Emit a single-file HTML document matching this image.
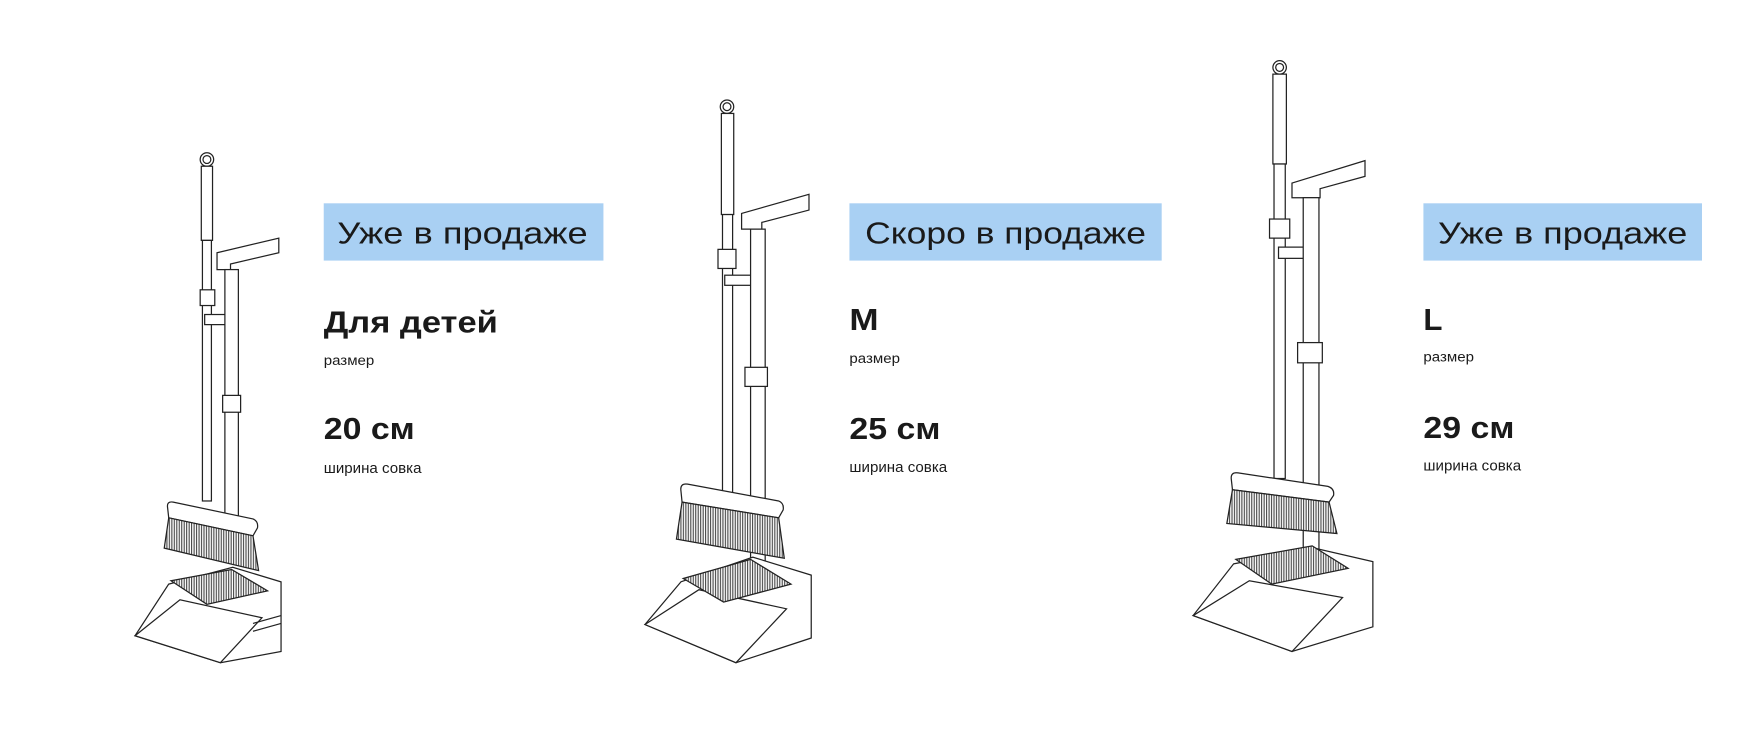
<!DOCTYPE html>
<html><head><meta charset="utf-8"><style>
html,body{margin:0;padding:0;background:#fff;}
svg{display:block}
text{font-family:"Liberation Sans",sans-serif;fill:#1a1a1a}
</style></head><body>
<svg width="1764" height="729" viewBox="0 0 1570 649" xmlns="http://www.w3.org/2000/svg">
<defs>
<pattern id="br" width="2.2" height="10" patternUnits="userSpaceOnUse"><rect width="2.2" height="10" fill="#fff"/><line x1="1" y1="0" x2="1" y2="10" stroke="#333" stroke-width="0.9"/></pattern>
</defs>
<g fill="#fff" stroke="#222" stroke-width="1.1">
<!-- Broom 1 -->
<circle cx="184" cy="142" r="6"/><circle cx="184" cy="142" r="3.5"/>
<rect x="179" y="148" width="10" height="66"/>
<rect x="180" y="214" width="8" height="232"/>
<rect x="178" y="258" width="13" height="14"/>
<rect x="182" y="280" width="20" height="9"/>
<path d="M193 225 L248 212 L248 225 L205 235 L205 240 L193 240 Z"/>
<rect x="200" y="240" width="12" height="260"/>
<rect x="198" y="352" width="16" height="15"/>
<path d="M149 452 Q148 446 154 447 L225 462 Q230 464 229 470 L225 477 L150 461 Z"/>
<path d="M150 461 L225 477 L230 508 L146 488 Z" fill="url(#br)"/>
<path d="M150 520 L207 505 L250 518 L250 580 L196 590 L120 566 Z"/>
<path d="M120 566 L160 534 L233 550 L196 590 Z"/>
<path d="M152 517 L206 507 L238 526 L184 538 Z" fill="url(#br)"/>
<line x1="225" y1="555" x2="250" y2="548"/><line x1="225" y1="562" x2="250" y2="555"/>
<!-- Broom 2 -->
<circle cx="647" cy="95" r="6"/><circle cx="647" cy="95" r="3.5"/>
<rect x="642" y="101" width="11" height="90"/>
<rect x="643" y="191" width="9" height="248"/>
<rect x="639" y="222" width="16" height="17"/>
<rect x="645" y="245" width="28" height="9"/>
<path d="M660 190 L720 173 L720 187 L678 198 L678 204 L660 204 Z"/>
<rect x="668" y="204" width="13" height="296"/>
<rect x="663" y="327" width="20" height="17"/>
<path d="M606 437 Q605 430 612 431 L693 446 Q698 448 697 454 L693 461 L607 447 Z"/>
<path d="M607 447 L693 461 L698 497 L602 480 Z" fill="url(#br)"/>
<path d="M606 518 L670 496 L722 512 L722 568 L655 590 L574 556 Z"/>
<path d="M574 556 L622 525 L700 542 L655 590 Z"/>
<path d="M608 515 L668 498 L704 520 L644 536 Z" fill="url(#br)"/>
<!-- Broom 3 -->
<circle cx="1139" cy="60" r="6"/><circle cx="1139" cy="60" r="3.5"/>
<rect x="1133" y="66" width="12" height="80"/>
<rect x="1134" y="146" width="10" height="280"/>
<rect x="1130" y="195" width="18" height="17"/>
<rect x="1138" y="220" width="32" height="10"/>
<path d="M1150 163 L1215 143 L1215 157 L1175 168 L1175 176 L1150 176 Z"/>
<rect x="1160" y="176" width="14" height="316"/>
<rect x="1155" y="305" width="22" height="18"/>
<path d="M1096 427 Q1095 420 1102 421 L1182 433 Q1188 435 1187 441 L1183 447 L1097 436 Z"/>
<path d="M1097 436 L1183 447 L1190 475 L1092 466 Z" fill="url(#br)"/>
<path d="M1098 502 L1170 488 L1222 500 L1222 558 L1150 580 L1062 548 Z"/>
<path d="M1062 548 L1112 517 L1195 532 L1150 580 Z"/>
<path d="M1100 498 L1168 486 L1200 506 L1132 520 Z" fill="url(#br)"/>
</g>
<!-- Labels -->
<rect x="288" y="181" width="249" height="51" fill="#a9d0f3"/>
<text x="300" y="217" font-size="27" textLength="223" lengthAdjust="spacingAndGlyphs">Уже в продаже</text>
<text x="288" y="296" font-size="27" font-weight="bold" textLength="155" lengthAdjust="spacingAndGlyphs">Для детей</text>
<text x="288" y="325" font-size="12" textLength="45" lengthAdjust="spacingAndGlyphs">размер</text>
<text x="288" y="391" font-size="27" font-weight="bold" textLength="81" lengthAdjust="spacingAndGlyphs">20 см</text>
<text x="288" y="421" font-size="13" textLength="87" lengthAdjust="spacingAndGlyphs">ширина совка</text>

<rect x="756" y="181" width="278" height="51" fill="#a9d0f3"/>
<text x="770" y="217" font-size="27" textLength="250" lengthAdjust="spacingAndGlyphs">Скоро в продаже</text>
<text x="756" y="294" font-size="27" font-weight="bold" textLength="26" lengthAdjust="spacingAndGlyphs">M</text>
<text x="756" y="323" font-size="12" textLength="45" lengthAdjust="spacingAndGlyphs">размер</text>
<text x="756" y="391" font-size="27" font-weight="bold" textLength="81" lengthAdjust="spacingAndGlyphs">25 см</text>
<text x="756" y="420" font-size="13" textLength="87" lengthAdjust="spacingAndGlyphs">ширина совка</text>

<rect x="1267" y="181" width="248" height="51" fill="#a9d0f3"/>
<text x="1280" y="217" font-size="27" textLength="222" lengthAdjust="spacingAndGlyphs">Уже в продаже</text>
<text x="1267" y="294" font-size="27" font-weight="bold" textLength="17" lengthAdjust="spacingAndGlyphs">L</text>
<text x="1267" y="322" font-size="12" textLength="45" lengthAdjust="spacingAndGlyphs">размер</text>
<text x="1267" y="390" font-size="27" font-weight="bold" textLength="81" lengthAdjust="spacingAndGlyphs">29 см</text>
<text x="1267" y="419" font-size="13" textLength="87" lengthAdjust="spacingAndGlyphs">ширина совка</text>
</svg>
</body></html>
